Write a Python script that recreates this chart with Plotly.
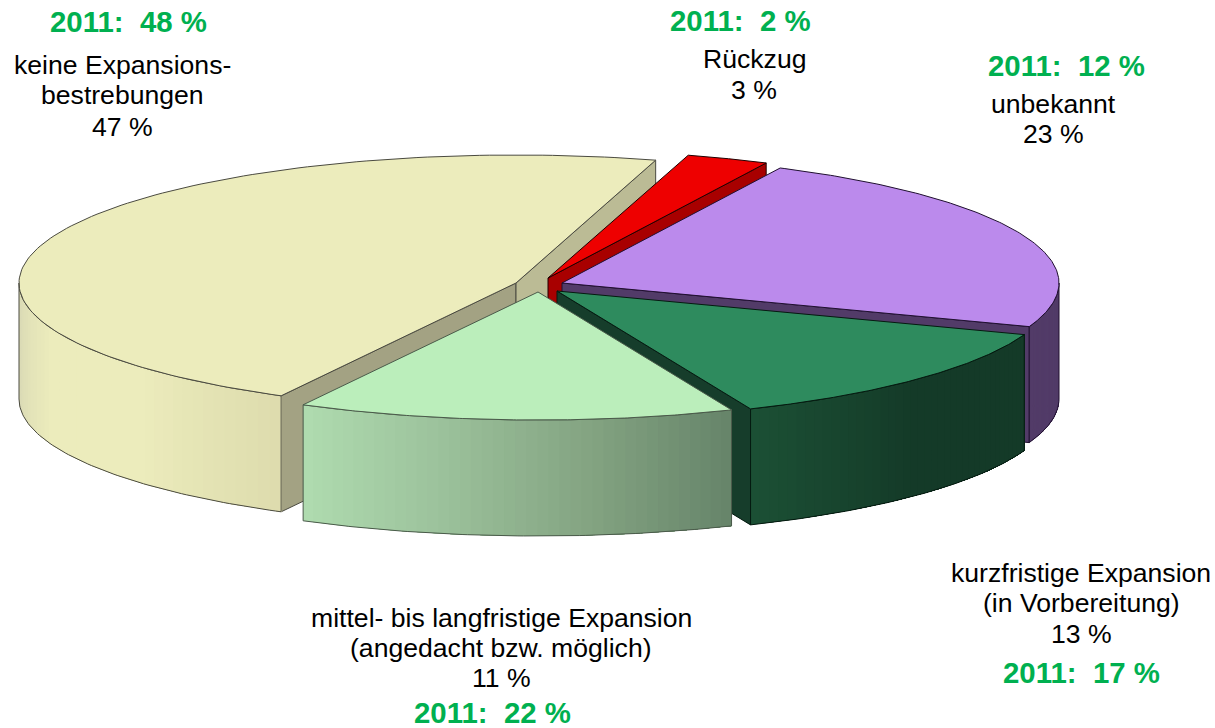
import numpy as np
import plotly.graph_objects as go

# --- data
categories = ["keine Expansionsbestrebungen", "Rückzug", "unbekannt",
              "kurzfristige Expansion", "mittel- bis langfristige Expansion"]
labelled_share = [47, 3, 23, 13, 11]
share_2011 = [48, 2, 12, 17, 22]
drawn_share = [46.7, 2.7, 23.3, 13.1, 14.2]   # slice widths as drawn in the picture (percent of the circle)

# --- styling
START_DEG = 208.2          # clockwise from 12 o'clock
RX, RY, DEPTH = 497, 128, 116
centres = [(516, 283), (548, 278), (562, 283), (557, 291), (538, 292)]
top_colors = ["#ECECBC", "#EE0000", "#BB8AEC", "#2E8B5E", "#BBEEBB"]
face_colors = [("#A3A283", "#BBBB95"), ("#A80000", "#A80000"), ("#523B68", "#523B68"),
               ("#163D2B", "#163D2B"), ("#66846A", "#B0DDB0")]
side_stops = [["#D6D6B4", "#ECECBC", "#ECECBC", "#DEDCAE"], ["#A80000", "#A80000"], ["#523B68", "#523B68"],
              ["#1C5035", "#143A28", "#143A28"], ["#B0DDB0", "#9CC29C", "#84A482", "#66846A"]]
line_colors = ["#4A4A40", "#200000", "#201030", "#051A10", "#4A5A4A"]

fig = go.Figure()


def poly(x, y, fill, line=None, width=1):
    fig.add_trace(go.Scatter(x=x, y=y, mode="lines", fill="toself", fillcolor=fill,
                             line=dict(color=line or fill, width=width),
                             hoverinfo="skip", showlegend=False))


def hex_rgb(h):
    return np.array([int(h[i:i + 2], 16) for i in (1, 3, 5)], float)


def ramp(stops, t):
    pos = t * (len(stops) - 1)
    i = min(int(pos), len(stops) - 2)
    c = hex_rgb(stops[i]) * (1 - (pos - i)) + hex_rgb(stops[i + 1]) * (pos - i)
    return "rgb(%d,%d,%d)" % tuple(c)


def point(c, deg):
    r = np.radians(deg)
    return c[0] + RX * np.sin(r), c[1] - RY * np.cos(r)


angle = START_DEG
for k, share in enumerate(drawn_share):
    a0, a1 = angle, angle + share * 3.6
    angle = a1
    if a0 >= 360:
        a0, a1 = a0 - 360, a1 - 360
    c = centres[k]
    # radial faces that look towards the viewer
    n0, n1 = a0 - 90, a1 + 90
    if np.cos(np.radians(n0)) < 0:
        px, py = point(c, a0)
        poly([c[0], px, px, c[0], c[0]], [c[1], py, py + DEPTH, c[1] + DEPTH, c[1]],
             face_colors[k][0], line_colors[k])
    if np.cos(np.radians(n1)) < 0:
        px, py = point(c, a1)
        poly([c[0], px, px, c[0], c[0]], [c[1], py, py + DEPTH, c[1] + DEPTH, c[1]],
             face_colors[k][1], line_colors[k])
    # outer wall on the lower half of the ellipse
    lo, hi = max(a0, 90), min(a1, 270)
    if hi > lo:
        # painted left to right: each band reaches the wall's right end, the next one covers it
        n = 40
        edges = np.linspace(hi, lo, n + 1)
        for i in range(n):
            ts = np.linspace(edges[i], lo, max(n - i, 1) * 2 + 1)
            xs, ys = point(c, ts)
            col = ramp(side_stops[k], (i + .5) / n)
            fig.add_trace(go.Scatter(x=list(xs) + list(xs[::-1]) + [xs[0]],
                                     y=list(ys) + list((ys + DEPTH)[::-1]) + [ys[0]],
                                     mode="lines", fill="toself", fillcolor=col, line=dict(width=0),
                                     hoverinfo="skip", showlegend=False))
        ts = np.linspace(lo, hi, 80)
        xs, ys = point(c, ts)
        fig.add_trace(go.Scatter(x=list(xs) + list(xs[::-1]) + [xs[0]],
                                 y=list(ys) + list((ys + DEPTH)[::-1]) + [ys[0]], mode="lines",
                                 line=dict(color=line_colors[k], width=1), hoverinfo="skip", showlegend=False))
    # top surface
    ts = np.linspace(a0, a1, 140)
    xs, ys = point(c, ts)
    poly([c[0]] + list(xs) + [c[0]], [c[1]] + list(ys) + [c[1]], top_colors[k], line_colors[k])

label_lines = [
    ("keine Expansions-", 122, 65), ("bestrebungen", 122, 95), (f"{labelled_share[0]} %", 122, 127),
    ("Rückzug", 754, 59), (f"{labelled_share[1]} %", 754, 90),
    ("unbekannt", 1053, 104), (f"{labelled_share[2]} %", 1053, 134),
    ("kurzfristige Expansion", 1081, 573), ("(in Vorbereitung)", 1081, 603), (f"{labelled_share[3]} %", 1081, 634),
    ("mittel- bis langfristige Expansion", 501, 618), ("(angedacht bzw. möglich)", 501, 648),
    (f"{labelled_share[4]} %", 501, 678),
]
green_pos = [(128, 21), (740, 20), (1066, 65), (1081, 672), (492.5, 712)]

annotations = [dict(x=x, y=y, text=t, showarrow=False, xanchor="center", yanchor="middle",
                    font=dict(family="Liberation Sans", size=26.6, color="#000000"))
               for t, x, y in label_lines]
annotations += [dict(x=p[0], y=p[1], text=f"2011:  {v} %", showarrow=False, xanchor="center", yanchor="middle",
                     font=dict(family="Liberation Sans", size=29.4, color="#00B050", weight="bold"))
                for v, p in zip(share_2011, green_pos)]

fig.update_layout(width=1215, height=728, margin=dict(l=0, r=0, t=0, b=0), showlegend=False,
                  paper_bgcolor="white", plot_bgcolor="white", annotations=annotations,
                  xaxis=dict(range=[0, 1215], visible=False, fixedrange=True),
                  yaxis=dict(range=[728, 0], visible=False, fixedrange=True))
fig.write_html("out.html", post_script="document.body.style.margin='0';document.body.style.overflow='hidden';",
               config=dict(displayModeBar=False))
